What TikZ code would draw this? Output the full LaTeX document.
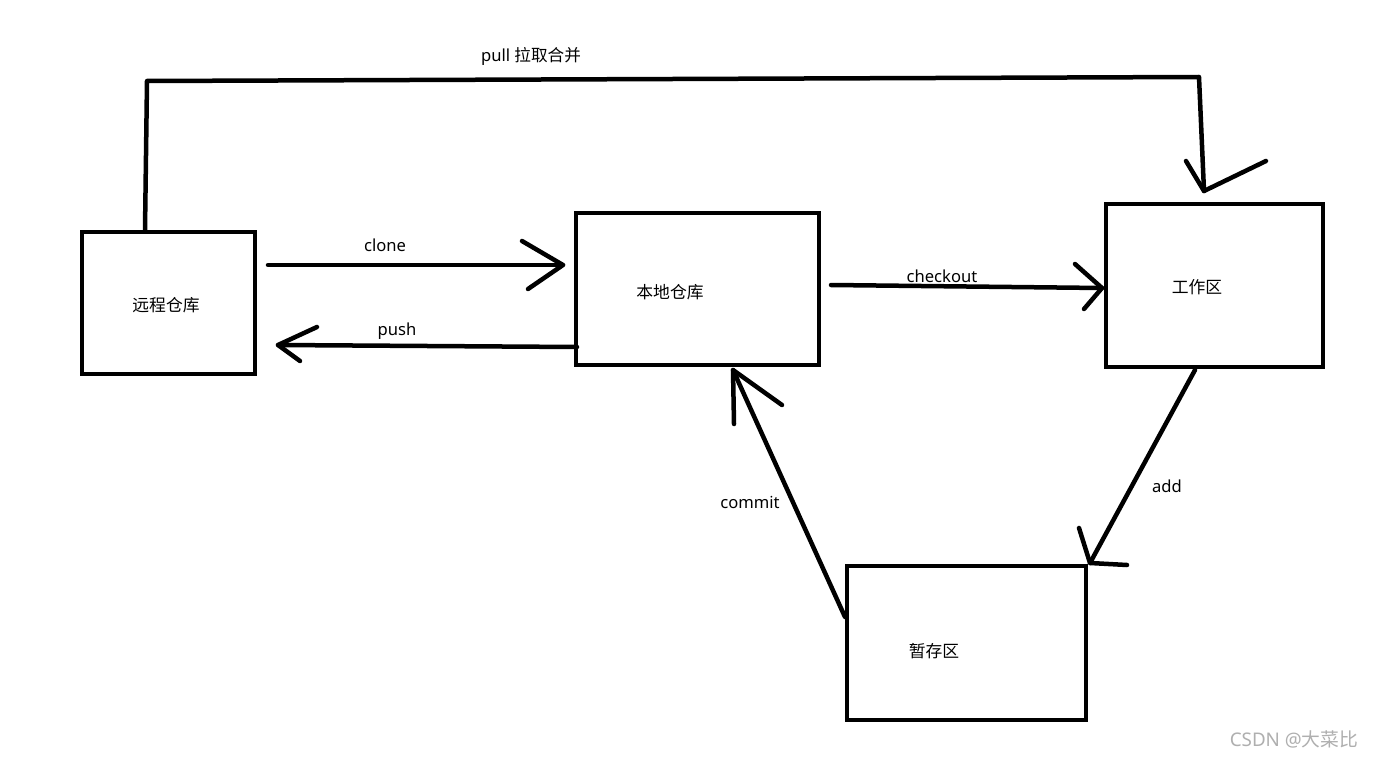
\documentclass[tikz,border=0pt]{standalone}
\usepackage{fontspec}
\setmainfont{Noto Sans}
\newfontfamily\cjk{Noto Sans CJK SC}
\usetikzlibrary{calc}
\definecolor{wmgray}{RGB}{175,175,175}
\begin{document}
\begin{tikzpicture}[x=1pt,y=-1pt,
  box/.style={draw, line width=4pt, rectangle, inner sep=0pt},
  conn/.style={line width=4.5pt, line cap=round, line join=round},
  lbl/.style={font=\fontsize{16.6}{18}\selectfont, inner sep=0pt},
  cjklbl/.style={font=\fontsize{16.8}{18}\selectfont\cjk, inner sep=0pt}]
\useasboundingbox[fill=white] (0,0) rectangle (1374,757);

% boxes
\node[box, minimum width=173pt, minimum height=142pt] (remote) at (168.5,303) {};
\node[box, minimum width=243pt, minimum height=152pt] (local) at (697.5,289) {};
\node[box, minimum width=217pt, minimum height=163pt] (work) at (1214.5,285.5) {};
\node[box, minimum width=239pt, minimum height=154pt] (stage) at (966.5,643) {};

% box texts
\node[cjklbl] (remoteT) at (166,305) {远程仓库};
\node[cjklbl] (localT) at (670,292) {本地仓库};
\node[cjklbl] (workT) at (1197,287) {工作区};
\node[cjklbl] (stageT) at (934,651) {暂存区};

% pull
\coordinate (pS) at ($(remote.north west)+(65,0)$);
\coordinate (pB) at (147,81);
\coordinate (pC) at (1199,77);
\coordinate (pT) at ($(work.north west)+(100,-11)$);
\draw[conn] (pS) -- (pB) -- (pC) -- (pT);
\draw[conn] (1186,161) -- (pT) -- (1266,161);
\node[lbl] (pullT) at (531,56) {pull {\cjk 拉取合并}};

% clone
\coordinate (cS) at ($(remote.east)+(11,-38)$);
\coordinate (cT) at ($(local.west)+(-11,-24)$);
\draw[conn] (cS) -- (cT);
\draw[conn] (522,241) -- (cT) -- (528,289);
\node[lbl] (cloneT) at (385,245) {clone};

% push
\coordinate (uS) at ($(local.west)+(3,58)$);
\coordinate (uT) at ($(remote.east)+(21,42)$);
\draw[conn] (uS) -- (uT);
\draw[conn] (317,327) -- (uT) -- (300,361);
\node[lbl] (pushT) at (397,331) {push};

% checkout
\coordinate (kS) at ($(local.east)+(10,-4)$);
\coordinate (kT) at ($(work.west)+(-2,2.5)$);
\draw[conn] (kS) -- (kT);
\draw[conn] (1075,264) -- (kT) -- (1084,309);
\node[lbl] (checkoutT) at (942,276) {checkout};

% add
\coordinate (aS) at ($(work.south)+(-19.5,1)$);
\coordinate (aT) at ($(stage.north east)+(2,-1)$);
\draw[conn] (aS) -- (aT);
\draw[conn] (1079,528) -- (aT) -- (1127,565);
\node[lbl] (addT) at (1167,486) {add};

% commit
\coordinate (mS) at ($(stage.west)+(0,-26)$);
\coordinate (mT) at ($(local.south)+(35.5,3)$);
\draw[conn] (mS) -- (mT);
\draw[conn] (734,424) -- (mT) -- (782,405);
\node[lbl] (commitT) at (750,502) {commit};

% watermark
\node[font=\fontsize{18.8}{20}\selectfont, text=wmgray, inner sep=0pt] (wm) at (1294,739) {CSDN @{\cjk 大菜比}};
\end{tikzpicture}
\end{document}
